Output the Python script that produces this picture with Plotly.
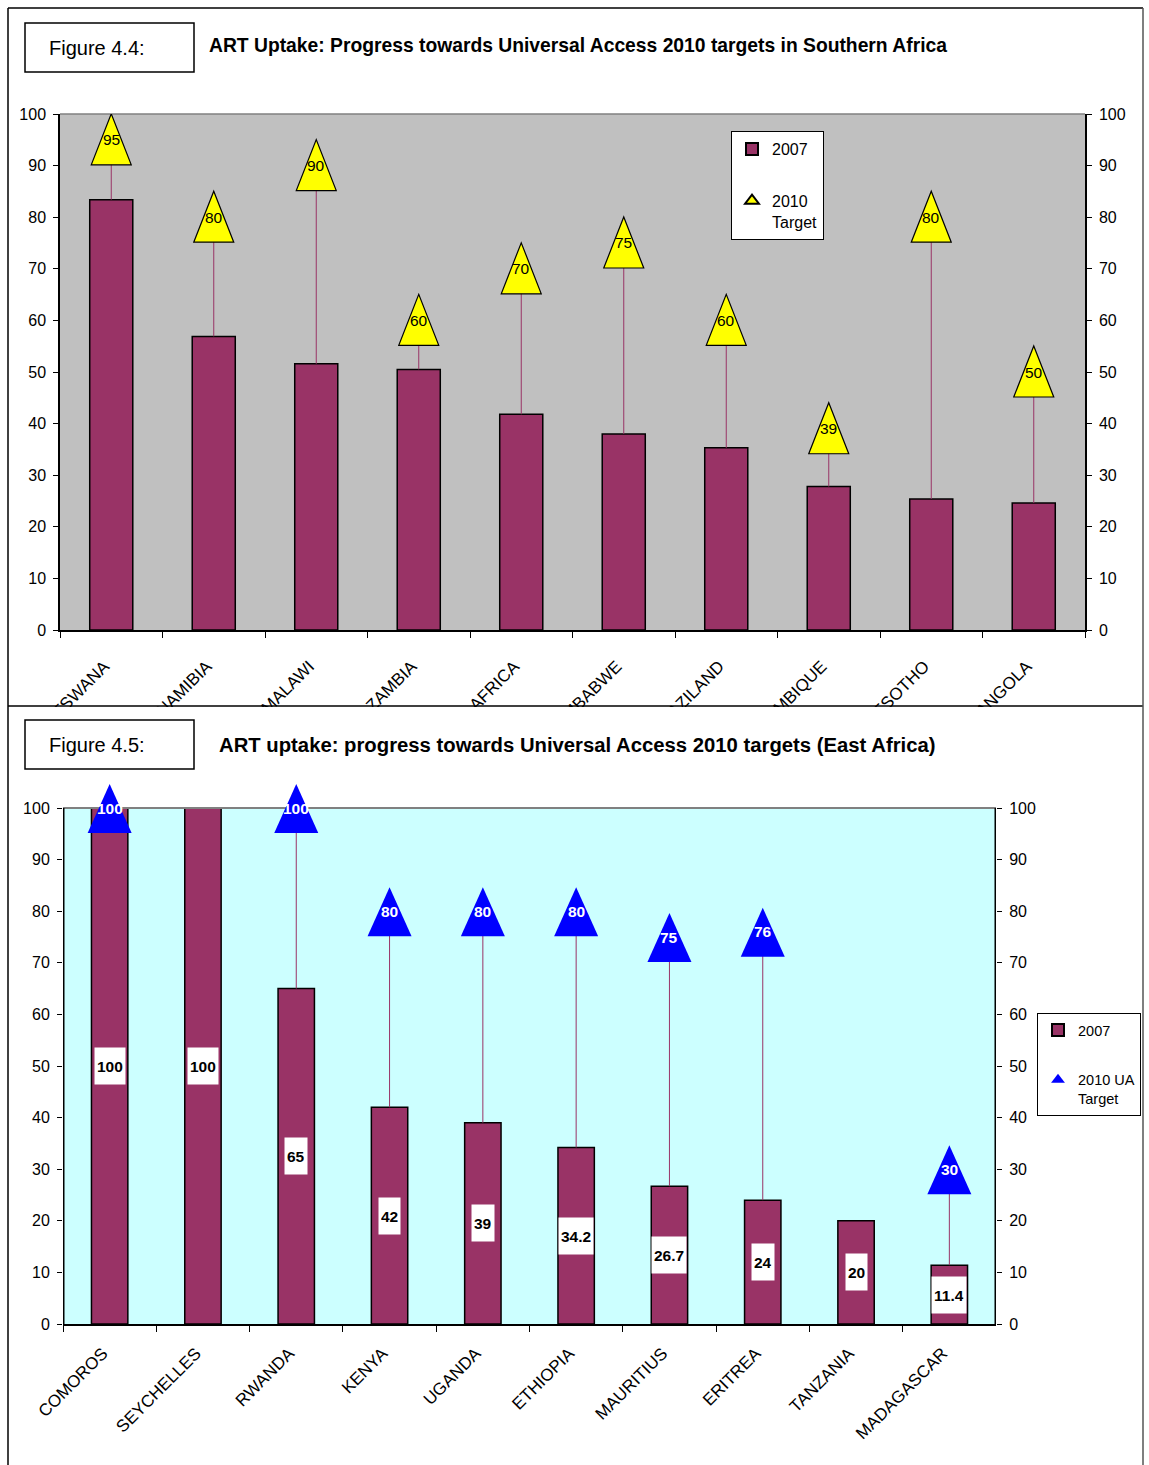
import plotly.graph_objects as go

W, H = 1149, 1465

# ---------------- data: Figure 4.4 (Southern Africa) ----------------
south_countries = ["BOTSWANA", "NAMIBIA", "MALAWI", "ZAMBIA", "SOUTH AFRICA",
                   "ZIMBABWE", "SWAZILAND", "MOZAMBIQUE", "LESOTHO", "ANGOLA"]
south_2007 = [83.4, 56.9, 51.6, 50.5, 41.8, 38.0, 35.3, 27.8, 25.4, 24.6]
south_target = [95, 80, 90, 60, 70, 75, 60, 39, 80, 50]

# ---------------- data: Figure 4.5 (East Africa) ----------------
east_countries = ["COMOROS", "SEYCHELLES", "RWANDA", "KENYA", "UGANDA",
                  "ETHIOPIA", "MAURITIUS", "ERITREA", "TANZANIA", "MADAGASCAR"]
east_2007 = [100, 100, 65, 42, 39, 34.2, 26.7, 24, 20, 11.4]
east_target = [100, None, 100, 80, 80, 80, 75, 76, None, 30]

y_ticks = [0, 10, 20, 30, 40, 50, 60, 70, 80, 90, 100]

# ---------------- styling ----------------
NARROW = "Liberation Sans Narrow, Arial Narrow, Liberation Sans, Arial, sans-serif"
REG = "Liberation Sans, Arial, sans-serif"
BAR_COLOR = "#993366"


def px(x):
    return x / W


def py(y):
    return 1 - y / H


def drop_lines(cats, vals, targets):
    xs, ys = [], []
    for c, v, t in zip(cats, vals, targets):
        if t is None:
            continue
        xs += [c, c, None]
        ys += [v, t, None]
    return xs, ys


fig = go.Figure()

# ---- top chart traces ----
fig.add_trace(go.Bar(
    x=south_countries, y=south_2007, xaxis="x", yaxis="y",
    width=0.42, marker=dict(color=BAR_COLOR, line=dict(color="black", width=1.5)),
    name="2007", legend="legend", legendgroup="a", hoverinfo="skip"))
fig.add_trace(go.Scatter(
    x=south_countries, y=south_target, xaxis="x", yaxis="y", mode="markers",
    marker=dict(symbol="triangle-up", size=12, color="#FFFF00",
                line=dict(color="black", width=1)),
    name="2010<br>Target", legend="legend", legendgroup="b", hoverinfo="skip"))
dx, dy = drop_lines(south_countries, south_2007, south_target)
fig.add_trace(go.Scatter(
    x=dx, y=dy, xaxis="x", yaxis="y2", mode="lines",
    line=dict(color=BAR_COLOR, width=1), showlegend=False, hoverinfo="skip"))

# ---- bottom chart traces ----
fig.add_trace(go.Bar(
    x=east_countries, y=east_2007, xaxis="x2", yaxis="y3",
    width=0.39, marker=dict(color=BAR_COLOR, line=dict(color="black", width=1.5)),
    name="2007", legend="legend2", legendgroup="c", hoverinfo="skip"))
fig.add_trace(go.Scatter(
    x=east_countries, y=east_target, xaxis="x2", yaxis="y3", mode="markers",
    marker=dict(symbol="triangle-up", size=12, color="#0000FF"),
    name="2010 UA<br>Target", legend="legend2", legendgroup="d", hoverinfo="skip"))
ex, ey = drop_lines(east_countries, east_2007, east_target)
fig.add_trace(go.Scatter(
    x=ex, y=ey, xaxis="x2", yaxis="y4", mode="lines",
    line=dict(color=BAR_COLOR, width=1), showlegend=False, hoverinfo="skip"))

# ---------------- axes ----------------
tickfont_y = dict(family=NARROW, size=16, color="black")
tickfont_x = dict(family=REG, size=17, color="black")

top_dom_x = [px(60), px(1085)]
top_dom_y = [py(630), py(114)]
bot_dom_x = [px(63), px(996)]
bot_dom_y = [py(1324), py(784)]
bot_range = [0, 100 + 24 / 5.16]


def xaxis(domain, anchor, cats, standoff):
    return dict(domain=domain, anchor=anchor, type="category", automargin=False,
                categoryorder="array", categoryarray=cats, range=[-0.5, len(cats) - 0.5],
                tickson="boundaries", ticks="outside", ticklen=6, tickwidth=1,
                tickcolor="black", showline=True, linecolor="black", linewidth=1.5,
                showgrid=False, zeroline=False, tickangle=-45, tickfont=tickfont_x,
                ticklabelstandoff=standoff, ticklabelshift=-7, fixedrange=True)


def yaxis(domain, anchor, side, rng, showline=True, overlaying=None):
    d = dict(domain=domain, anchor=anchor, side=side, range=rng, tickvals=y_ticks,
             automargin=False,
             ticks="outside", ticklen=5, tickwidth=1, tickcolor="black",
             showline=showline, linecolor="black", linewidth=1.5, showgrid=False,
             zeroline=False, tickfont=tickfont_y, ticklabelstandoff=4, fixedrange=True)
    if overlaying:
        d["overlaying"] = overlaying
    return d


fig.update_layout(
    template="none",
    xaxis=xaxis(top_dom_x, "y", south_countries, 18),
    yaxis=yaxis(top_dom_y, "x", "left", [0, 100]),
    yaxis2=yaxis(top_dom_y, "x", "right", [0, 100], overlaying="y"),
    xaxis2=xaxis(bot_dom_x, "y3", east_countries, 11),
    yaxis3=yaxis(bot_dom_y, "x2", "left", bot_range, showline=False),
    yaxis4=yaxis(bot_dom_y, "x2", "right", bot_range, showline=False, overlaying="y3"),
)

# ---------------- shapes ----------------
shapes = []
# plot backgrounds
shapes.append(dict(type="rect", xref="x domain", yref="y domain", x0=0, x1=1, y0=0, y1=1,
                   fillcolor="#C0C0C0", line=dict(width=0), layer="below"))
shapes.append(dict(type="rect", xref="x2", yref="y3", x0=-0.5, x1=len(east_countries) - 0.5,
                   y0=0, y1=100, fillcolor="#CCFFFF", line=dict(width=0), layer="below"))
# plot-area top borders (grey) and bottom-chart vertical axis lines
shapes.append(dict(type="line", xref="x domain", yref="y domain", x0=0, x1=1, y0=1, y1=1,
                   line=dict(color="#808080", width=1.5), layer="above"))
shapes.append(dict(type="line", xref="x2", yref="y3", x0=-0.5, x1=len(east_countries) - 0.5,
                   y0=100, y1=100, line=dict(color="#808080", width=2), layer="above"))
for xe in (-0.5, len(east_countries) - 0.5):
    shapes.append(dict(type="line", xref="x2", yref="y3", x0=xe, x1=xe, y0=0, y1=100,
                       line=dict(color="black", width=3), layer="above"))

# target triangles (pixel-sized, anchored on data values)
for c, t in zip(south_countries, south_target):
    shapes.append(dict(type="path", xref="x", yref="y", xsizemode="pixel", ysizemode="pixel",
                       xanchor=c, yanchor=t, path="M-20,-25 L20,-25 L0,26 Z",
                       fillcolor="#FFFF00", line=dict(color="black", width=1.2), layer="above"))
for c, t in zip(east_countries, east_target):
    if t is None:
        continue
    shapes.append(dict(type="path", xref="x2", yref="y3", xsizemode="pixel", ysizemode="pixel",
                       xanchor=c, yanchor=t, path="M-22,-25 L22,-25 L0,24 Z",
                       fillcolor="#0000FF", line=dict(width=0), layer="above"))

# cover for the top chart's category labels under the second figure
shapes.append(dict(type="rect", xref="paper", yref="paper", x0=px(9), x1=px(1142),
                   y0=py(776), y1=py(707), fillcolor="white", line=dict(width=0), layer="above"))
# page frames
frame = dict(color="black", width=1.5)
shapes.append(dict(type="line", xref="paper", yref="paper", x0=px(8), x1=px(1143),
                   y0=py(8), y1=py(8), line=frame, layer="above"))
shapes.append(dict(type="line", xref="paper", yref="paper", x0=px(8), x1=px(1143),
                   y0=py(706), y1=py(706), line=frame, layer="above"))
shapes.append(dict(type="line", xref="paper", yref="paper", x0=px(8), x1=px(8),
                   y0=py(8), y1=py(1465), line=frame, layer="above"))
shapes.append(dict(type="line", xref="paper", yref="paper", x0=px(1143), x1=px(1143),
                   y0=py(8), y1=py(1465), line=dict(color="#555555", width=1.5), layer="above"))
# figure label boxes
for top, bot in ((23, 72), (720, 769)):
    shapes.append(dict(type="rect", xref="paper", yref="paper", x0=px(25), x1=px(194),
                       y0=py(bot), y1=py(top), line=dict(color="black", width=1.5),
                       fillcolor="white", layer="above"))

# ---------------- annotations ----------------
ann = []
ann.append(dict(text="Figure 4.4:", xref="paper", yref="paper", x=px(47), y=py(48),
                xanchor="left", yanchor="middle", showarrow=False,
                font=dict(family=REG, size=20, color="black")))
ann.append(dict(text="<b>ART Uptake: Progress towards Universal Access 2010 targets in Southern Africa</b>",
                xref="paper", yref="paper", x=px(207), y=py(46), xanchor="left", yanchor="middle",
                showarrow=False, font=dict(family=NARROW, size=19.3, color="black")))
ann.append(dict(text="Figure 4.5:", xref="paper", yref="paper", x=px(47), y=py(745),
                xanchor="left", yanchor="middle", showarrow=False,
                font=dict(family=REG, size=20, color="black")))
ann.append(dict(text="<b>ART uptake: progress towards Universal Access 2010 targets (East Africa)</b>",
                xref="paper", yref="paper", x=px(217), y=py(745), xanchor="left", yanchor="middle",
                showarrow=False, font=dict(family=NARROW, size=20.3, color="black")))

for c, t in zip(south_countries, south_target):
    ann.append(dict(text=f"{t:g}", x=c, y=t, xref="x", yref="y", showarrow=False,
                    xanchor="center", yanchor="middle",
                    font=dict(family=NARROW, size=15.5, color="black")))
for c, t in zip(east_countries, east_target):
    if t is None:
        continue
    ann.append(dict(text=f"<b>{t:g}</b>", x=c, y=t, xref="x2", yref="y3", showarrow=False,
                    xanchor="center", yanchor="middle",
                    font=dict(family=NARROW, size=15.5, color="white")))
for c, v in zip(east_countries, east_2007):
    ann.append(dict(text=f"<b>{v:g}</b>", x=c, y=v / 2, xref="x2", yref="y3", showarrow=False,
                    xanchor="center", yanchor="middle", bgcolor="white", borderpad=2,
                    height=32, font=dict(family=NARROW, size=15.5, color="black")))

legend_style = dict(bgcolor="white", bordercolor="black", borderwidth=1,
                    yanchor="top", tracegroupgap=28,
                    traceorder="grouped", valign="top", itemsizing="constant")

fig.update_layout(
    width=W, height=H, autosize=False,
    margin=dict(l=0, r=0, t=0, b=0, pad=0, autoexpand=False),
    paper_bgcolor="white", plot_bgcolor="rgba(0,0,0,0)",
    shapes=shapes, annotations=ann, showlegend=True,
    legend=dict(x=px(731), y=py(131), xanchor="left",
                font=dict(family=NARROW, size=16, color="black"), **legend_style),
    legend2=dict(x=px(1141), y=py(1013), xanchor="right",
                 font=dict(family=NARROW, size=14.5, color="black"), **legend_style),
)

fig.write_html(
    "out.html",
    post_script="document.body.style.margin='0px';"
                "document.documentElement.style.overflow='hidden';"
                "document.body.style.overflow='hidden';",
)
